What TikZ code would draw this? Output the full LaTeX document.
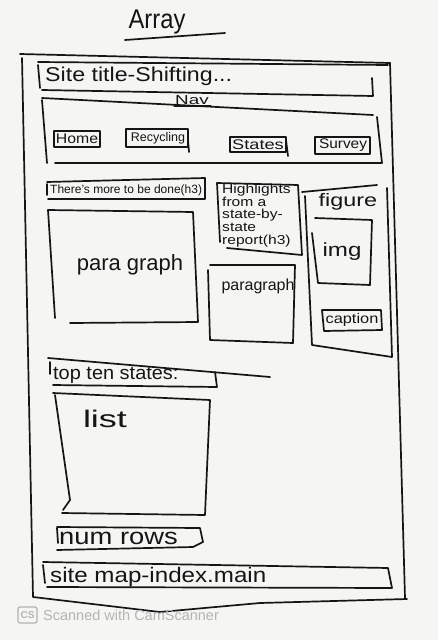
\documentclass[tikz,border=0pt]{standalone}
\usepackage{fontspec}
\setmainfont{Liberation Sans}
\definecolor{paper}{HTML}{F5F5F3}
\definecolor{inkc}{HTML}{151515}
\definecolor{stamp}{HTML}{B4B4B4}
% widen a label horizontally, the way loose handwriting runs wide
\newcommand\widen[2]{\scalebox{#1}[1]{#2}}
\newcommand\fs[1]{\fontsize{#1}{#1}\selectfont}
\begin{document}
\begin{tikzpicture}[x=1pt,y=-1pt,
  ink/.style={line width=1.7pt, line join=round, line cap=round, draw=inkc},
  lbl/.style={inner sep=0pt, anchor=center, text=inkc},
]
\fill[paper] (0,0) rectangle (438,640);
\useasboundingbox (0,0) rectangle (438,640);

% heading
\node[lbl, font=\fs{27}] (title) at (157,22) {\widen{0.88}{Array}};
\draw[ink] (125,40) -- (225,33);

% page frame
\draw[ink] (20,54) -- (390,63);
\draw[ink] (390,63) -- (405,598);
\draw[ink] (22,58) -- (33,597) -- (160,612) -- (260,603) -- (407,599);

% site title bar
\draw[ink] (38,62) -- (388,65);
\draw[ink] (38,65) -- (40,88);
\draw[ink] (42,90) -- (373,96) -- (372,78);
\node[lbl, anchor=west, font=\fs{20}] (sitetitle) at (45,76) {\widen{1.16}{Site title-Shifting...}};

% navigation bar
\draw[ink] (42,98) -- (373,115);
\draw[ink] (42,100) -- (47,163);
\draw[ink] (55,163) -- (382,163) -- (377,117);
\node[lbl, font=\fs{13}] (nav) at (192,100) {\widen{1.45}{Nav}};
\draw[ink, line width=1.1pt] (174,106) -- (211,106);
\draw[ink] (54,131) rectangle (100,147);
\node[lbl, font=\fs{14}] (home) at (77,139) {\widen{1.13}{Home}};
\draw[ink] (126,129) rectangle (188,147);
\draw[ink] (188,140) -- (189,152);
\node[lbl, font=\fs{12.5}] (recycling) at (158,138) {Recycling};
\draw[ink] (230,137) rectangle (286,152);
\draw[ink] (286,140) -- (288,156);
\node[lbl, font=\fs{14}] (states) at (258,145) {\widen{1.3}{States}};
\draw[ink] (315,137) rectangle (370,154);
\node[lbl, font=\fs{14}] (survey) at (343,145) {\widen{1.1}{Survey}};

% heading block and first paragraph
\draw[ink] (47,182) -- (205,178) -- (205,199) -- (48,199);
\draw[ink] (47,184) -- (47,195);
\node[lbl, anchor=west, font=\fs{12}] (more) at (50,190) {There's more to be done(h3)};
\draw[ink] (48,210) -- (193,212) -- (198,322) -- (70,323);
\draw[ink] (48,210) -- (55,318);
\node[lbl, font=\fs{22}] (para1) at (130,265) {para graph};

% highlights block and second paragraph
\draw[ink] (217,183) -- (298,185) -- (302,255) -- (227,248);
\draw[ink] (217,183) -- (220,242);
\node[lbl, align=left, anchor=north west, font=\fontsize{13}{12.6}\selectfont] (highlights) at (222,184)
  {\widen{1.2}{Highlights}\\\widen{1.2}{from a}\\\widen{1.2}{state-by-}\\\widen{1.2}{state}\\\widen{1.2}{report(h3)}};
\draw[ink] (210,265) -- (295,265) -- (293,343) -- (210,340) -- (208,270);
\node[lbl, font=\fs{16}] (para2) at (258,286) {paragraph};

% figure with image and caption
\draw[ink] (302,192) -- (377,185);
\draw[ink] (387,188) -- (392,357) -- (312,345) -- (305,196);
\node[lbl, font=\fs{18}] (figure) at (348,202) {\widen{1.3}{figure}};
\draw[ink] (315,218) -- (372,220) -- (370,285) -- (318,283) -- (312,233);
\node[lbl, font=\fs{19}] (img) at (342,252) {\widen{1.27}{img}};
\draw[ink] (322,310) -- (381,310) -- (382,330) -- (324,331) -- cycle;
\node[lbl, font=\fs{14}] (caption) at (352,320) {\widen{1.17}{caption}};

% list section
\draw[ink] (48,358) -- (270,377);
\draw[ink] (50,362) -- (50,374);
\draw[ink] (53,385) -- (217,387) -- (215,372);
\node[lbl, anchor=west, font=\fs{19}] (topten) at (53,375) {\widen{1.05}{top ten states:}};
\draw[ink] (53,393) -- (210,400) -- (205,515) -- (62,513);
\draw[ink] (55,395) -- (70,500) -- (63,510);
\node[lbl, font=\fs{24}] (list) at (105,419) {\widen{1.5}{list}};
\draw[ink] (57,527) -- (200,528) -- (203,542) -- (193,547) -- (57,550);
\draw[ink] (57,528) -- (58,543);
\node[lbl, anchor=west, font=\fs{23}] (numrows) at (59,538) {\widen{1.19}{num rows}};

% footer
\draw[ink] (43,562) -- (388,568) -- (392,588) -- (47,587);
\draw[ink] (43,565) -- (45,583);
\node[lbl, anchor=west, font=\fs{21}] (sitemap) at (50,577) {\widen{1.15}{site map-index.main}};

% scanner stamp
\draw[stamp, line width=1.2pt, rounded corners=2pt] (18,607) rectangle (37,623);
\node[inner sep=0pt, text=stamp, font=\fs{10}\bfseries] (cs) at (27.5,615) {CS};
\node[inner sep=0pt, anchor=west, text=stamp, font=\fs{14.5}] (scanned) at (43,615.5) {Scanned with CamScanner};
\end{tikzpicture}
\end{document}
